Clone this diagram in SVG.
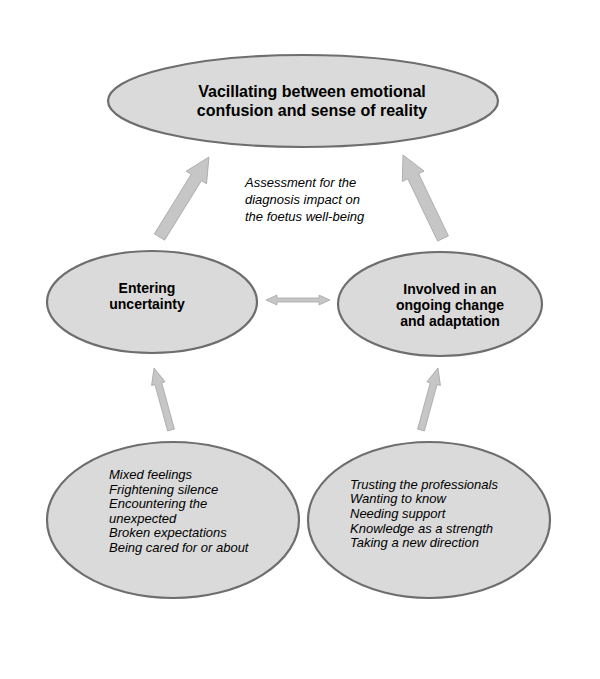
<svg xmlns="http://www.w3.org/2000/svg" width="600" height="679" viewBox="0 0 600 679">
<style>
.node ellipse{fill:#dadada;stroke:#6e6e6e;stroke-width:2.2}
.b{font-family:"Liberation Sans",Arial,sans-serif;font-weight:bold;font-size:14px;fill:#000;text-anchor:middle}
.t{font-family:"Liberation Sans",Arial,sans-serif;font-weight:bold;font-size:16px;fill:#000;text-anchor:middle}
.i{font-family:"Liberation Sans",Arial,sans-serif;font-style:italic;font-size:13px;fill:#000}
.arr polygon{fill:#c6c6c6;stroke:#a8a8a8;stroke-width:0.8}
</style>
<rect width="600" height="679" fill="#fff"/>
<g id="connectors" class="arr">
<polygon transform="translate(159.5,237) rotate(-58.25)" points="0,-6 70,-6 70,-12 94,0 70,12 70,6 0,6"/>
<polygon transform="translate(443,238.5) rotate(-115.6)" points="0,-6 69,-6 69,-12 92.6,0 69,12 69,6 0,6"/>
<polygon transform="translate(171,430) rotate(-105.3)" points="0,-3.5 48,-3.5 48,-7 64.3,0 48,7 48,3.5 0,3.5"/>
<polygon transform="translate(421,430) rotate(-74.7)" points="0,-3.5 48,-3.5 48,-7 64.3,0 48,7 48,3.5 0,3.5"/>
<polygon points="266,300 277,295 277,298 319,298 319,295 330,300 319,305 319,302 277,302 277,305"/>
</g>
<g id="top" class="node">
<ellipse cx="303" cy="101" rx="195" ry="46"/>
<text class="t" x="312" y="97">Vacillating between emotional</text>
<text class="t" x="312" y="116">confusion and sense of reality</text>
</g>
<g id="assessment">
<text class="i" x="245" y="187">Assessment for the</text>
<text class="i" x="245" y="204">diagnosis impact on</text>
<text class="i" x="245" y="221">the foetus well-being</text>
</g>
<g id="entering" class="node">
<ellipse cx="152" cy="302" rx="105" ry="51"/>
<text class="b" x="147" y="293">Entering</text>
<text class="b" x="147" y="309">uncertainty</text>
</g>
<g id="involved" class="node">
<ellipse cx="440" cy="304" rx="102" ry="52"/>
<text class="b" x="450" y="294">Involved in an</text>
<text class="b" x="450" y="310">ongoing change</text>
<text class="b" x="450" y="326">and adaptation</text>
</g>
<g id="feelings" class="node">
<ellipse cx="173" cy="520" rx="126" ry="78"/>
<text class="i" x="109" y="479">Mixed feelings</text>
<text class="i" x="109" y="494">Frightening silence</text>
<text class="i" x="109" y="508">Encountering the</text>
<text class="i" x="109" y="523">unexpected</text>
<text class="i" x="109" y="537">Broken expectations</text>
<text class="i" x="109" y="552">Being cared for or about</text>
</g>
<g id="trusting" class="node">
<ellipse cx="429" cy="520" rx="121" ry="78"/>
<text class="i" x="350" y="489">Trusting the professionals</text>
<text class="i" x="350" y="503">Wanting to know</text>
<text class="i" x="350" y="518">Needing support</text>
<text class="i" x="350" y="533">Knowledge as a strength</text>
<text class="i" x="350" y="547">Taking a new direction</text>
</g>
</svg>
